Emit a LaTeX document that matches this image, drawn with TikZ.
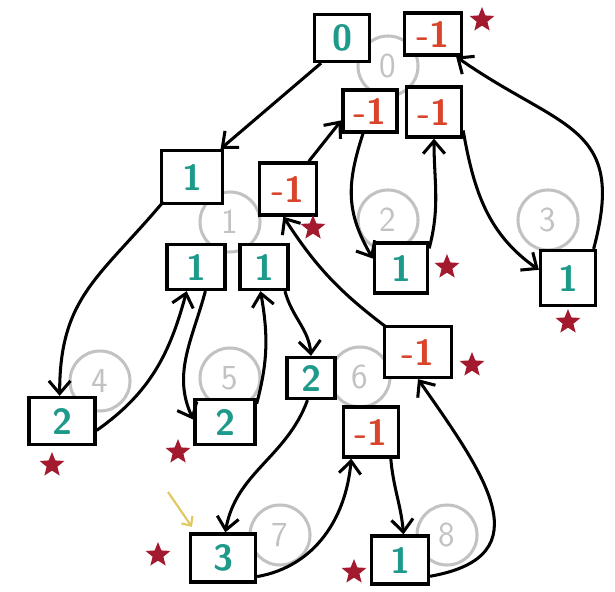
\documentclass[tikz,border=0pt]{standalone}
\usepackage{xcolor}
\usepackage{tikz}
\usetikzlibrary{arrows.meta, shapes.geometric}

\definecolor{tealnum}{HTML}{1E9A8A}
\definecolor{rednum}{HTML}{D9452B}
\definecolor{starred}{HTML}{A3192E}
\definecolor{vertgrey}{HTML}{C2C2C2}
\definecolor{hintyellow}{HTML}{E0C860}

\begin{document}
\begin{tikzpicture}[x=0.03cm, y=-0.03cm, >={Straight Barb[length=3.8mm, width=6.5mm]},
  every node/.style={font=\sffamily},
  box/.style 2 args={draw, line width=2.8pt, fill=white, inner sep=0pt,
    minimum width=#1*0.03cm, minimum height=#2*0.03cm,
    font=\sffamily\bfseries\fontsize{31}{31}\selectfont},
  posval/.style={text=tealnum},
  negval/.style={text=rednum},
  vert/.style={circle, draw=vertgrey, line width=2.6pt, minimum size=1.8cm, inner sep=0pt,
    text=vertgrey, font=\sffamily\fontsize{30}{30}\selectfont},
  starmark/.style={star, star points=5, star point ratio=2.3, fill=starred, inner sep=0pt, minimum size=0.78cm},
  link/.style={->, line width=2.6pt},
  hint/.style={->, line width=1.8pt, draw=hintyellow, >={Straight Barb[length=2.2mm, width=4mm]}}]
  \useasboundingbox (0,0) rectangle (615,592);

  % vertices of the tree (grey circles)
  \node[vert] (v0) at (388,66) {0};
  \node[vert] (v1) at (230,222) {1};
  \node[vert] (v2) at (388,220) {2};
  \node[vert] (v3) at (548,220) {3};
  \node[vert] (v4) at (100,381) {4};
  \node[vert] (v5) at (230,378) {5};
  \node[vert] (v6) at (360,377) {6};
  \node[vert] (v7) at (280,535) {7};
  \node[vert] (v8) at (447,535) {8};

  % values written on the way down and up
  \node[box={55}{47}, posval] (b0a) at (342,38) {0};
  \node[box={57}{42}, negval] (b0b) at (433,34) {-1};
  \node[box={54}{42}, negval] (b0c) at (370,111) {-1};
  \node[box={55}{50}, negval] (b0d) at (434,112) {-1};
  \node[box={61}{53}, posval] (b1a) at (192,177) {1};
  \node[box={57}{52}, negval] (b1b) at (288,189) {-1};
  \node[box={58}{45}, posval] (b1c) at (196,267) {1};
  \node[box={48}{45}, posval] (b1d) at (264,267) {1};
  \node[box={53}{50}, posval] (b2) at (401,268) {1};
  \node[box={55}{55}, posval] (b3) at (568,278) {1};
  \node[box={66}{47}, posval] (b4) at (62,421) {2};
  \node[box={60}{45}, posval] (b5) at (225,422) {2};
  \node[box={48}{41}, posval] (b6a) at (311,378) {2};
  \node[box={67}{51}, negval] (b6b) at (418,352) {-1};
  \node[box={55}{50}, negval] (b6c) at (371,432) {-1};
  \node[box={65}{48}, posval] (b7) at (223,558) {3};
  \node[box={57}{48}, posval] (b8) at (400,560) {1};

  % stars
  \node[starmark] (s0b) at (482,20) {};
  \node[starmark] (s1b) at (313,228) {};
  \node[starmark] (s2) at (447,267) {};
  \node[starmark] (s3) at (568,322) {};
  \node[starmark] (s4) at (52,465) {};
  \node[starmark] (s5) at (178,452) {};
  \node[starmark] (s6b) at (472,365) {};
  \node[starmark] (s7) at (158,555) {};
  \node[starmark] (s8) at (354,572) {};

  % traversal
  \draw[link] ([xshift=7pt]b0a.south west) -- ([xshift=-3pt]b1a.north east);
  \draw[link] ([xshift=3pt,yshift=3pt]b1a.south west) to[out=-130, in=90, looseness=1.15] ([xshift=-2pt]b4.north);
  \draw[link] ([yshift=-8pt]b4.east) to[out=35, in=-105] ([xshift=-8pt]b1c.south);
  \draw[link] ([xshift=8pt]b1c.south) to[out=-105, in=115] ([yshift=2pt]b5.west);
  \draw[link] ([yshift=-5pt]b5.north east) to[out=75, in=-80] ([xshift=-3pt]b1d.south);
  \draw[link] ([xshift=-4pt]b1d.south east) to[out=-75, in=95] (b6a.north);
  \draw[link] ([xshift=-3pt]b6a.south) to[out=-110, in=80] ([xshift=2pt]b7.north);
  \draw[link] ([yshift=6pt]b7.south east) to[out=10, in=-95] ([xshift=8pt]b6c.south west);
  \draw[link] ([xshift=-8pt]b6c.south east) to[out=-85, in=95] ([xshift=3pt]b8.north);
  \draw[link] ([yshift=8pt]b8.south east) to[out=10, in=-55, looseness=1.5] (b6b.south);
  \draw[link] ([xshift=3pt,yshift=-2pt]b6b.north west) to[bend left=10] ([xshift=-4pt]b1b.south);
  \draw[link] ([xshift=-8pt]b1b.north east) -- ([yshift=-8pt]b0c.west);
  \draw[link] ([xshift=-6pt]b0c.south) to[out=-108, in=120, looseness=1.1] ([yshift=8pt]b2.west);
  \draw[link] ([yshift=-6pt]b2.north east) to[out=75, in=-90] (b0d.south);
  \draw[link] ([yshift=7pt]b0d.south east) to[out=-80, in=145] ([yshift=7pt]b3.west);
  \draw[link] ([xshift=-3pt]b3.north east) to[out=75, in=-35, looseness=1.4] ([xshift=-6pt]b0b.south east);

  % pencil hint
  \coordinate (hintA) at (168,492);
  \coordinate (hintB) at (192,527);
  \draw[hint] (hintA) -- (hintB);
\end{tikzpicture}
\end{document}
